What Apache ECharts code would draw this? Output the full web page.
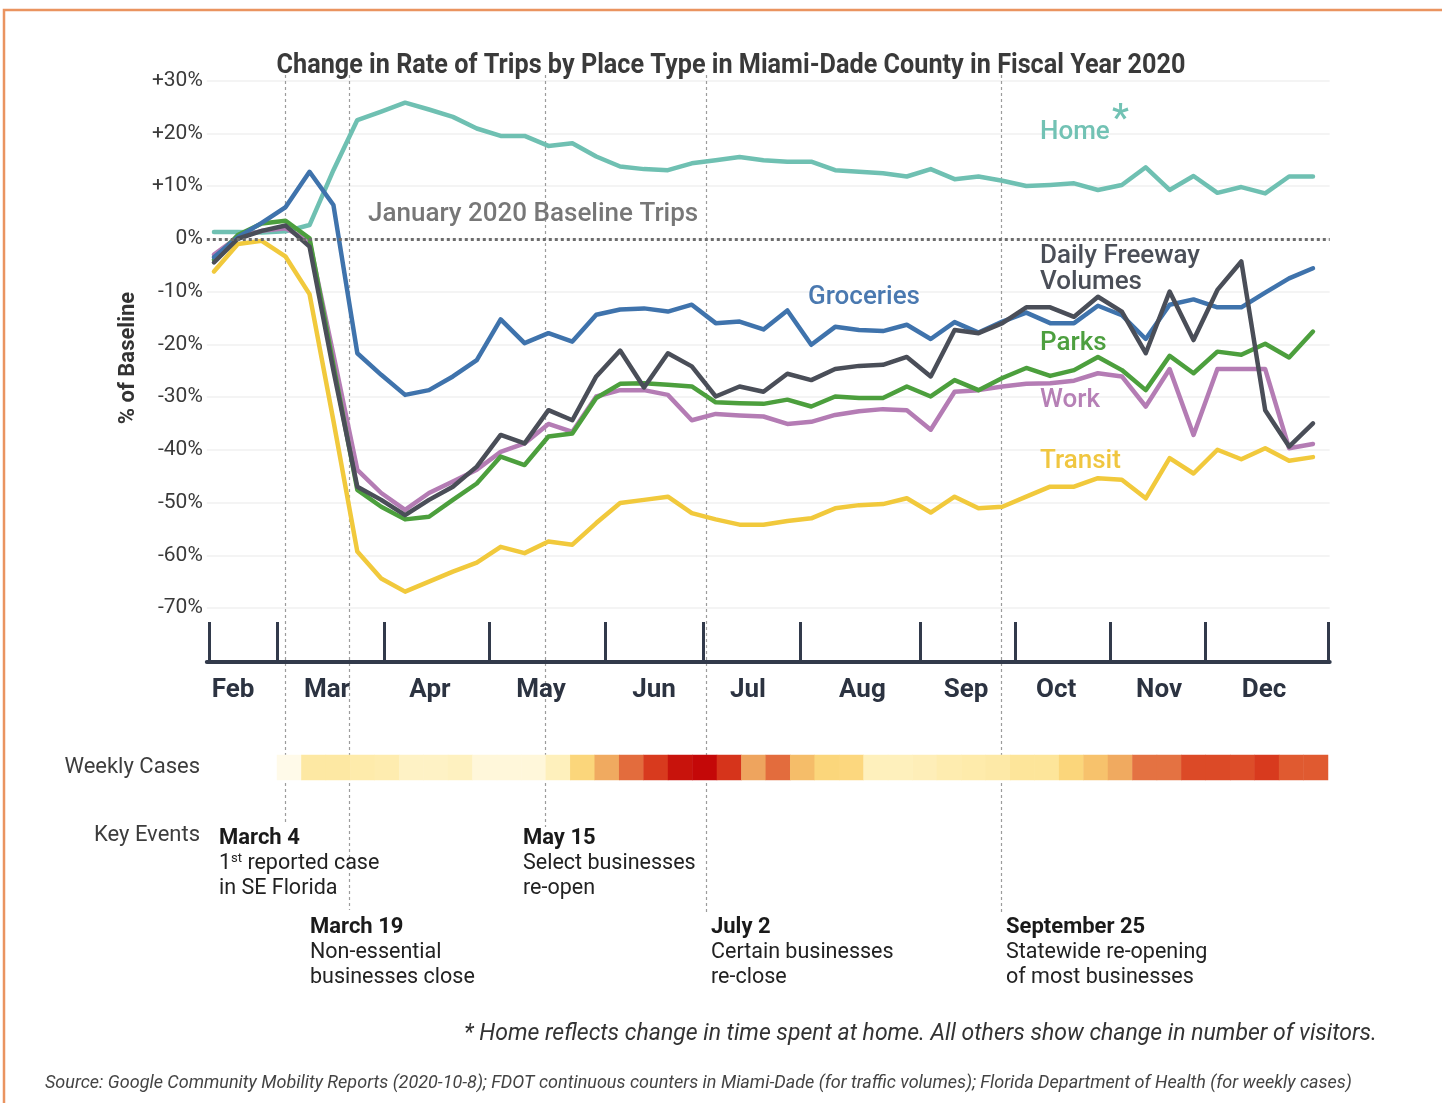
<!DOCTYPE html>
<html><head><meta charset="utf-8">
<script src="https://cdn.jsdelivr.net/npm/echarts@6/dist/echarts.min.js"></script>
<style>html,body{margin:0;padding:0;background:#fff;}#c{width:1442px;height:1103px;}</style>
</head><body><div id="c"></div>
<script>
// ---- DATA (weekly points, x = week index 0..46) ----
const home      = [1.3,1.3,1.2,1.4,2.6,13,22.5,24.1,25.8,24.5,23.1,20.9,19.5,19.5,17.6,18.1,15.6,13.7,13.2,13.0,14.3,14.9,15.5,14.9,14.6,14.6,13.0,12.7,12.4,11.8,13.2,11.3,11.8,11.0,10.0,10.2,10.5,9.25,10.2,13.55,9.25,11.9,8.7,9.8,8.6,11.8,11.8];
const groceries = [-3.5,0.3,3.0,6.0,12.7,6.4,-21.7,-25.8,-29.6,-28.7,-26.1,-23.0,-15.3,-19.8,-17.9,-19.5,-14.4,-13.4,-13.2,-13.8,-12.5,-16.0,-15.7,-17.2,-13.6,-20.1,-16.7,-17.3,-17.5,-16.3,-19.0,-15.8,-17.8,-15.7,-14.0,-16.0,-16.0,-12.7,-14.5,-19.0,-12.5,-11.5,-13.0,-13.0,-10.2,-7.5,-5.6];
const freeway   = [-4.5,0.0,1.5,2.5,-1.5,-25,-47,-49.5,-52.4,-49.5,-47.0,-43.2,-37.2,-38.8,-32.5,-34.4,-26.1,-21.2,-28.2,-21.7,-24.2,-29.9,-28.0,-29.0,-25.6,-26.8,-24.7,-24.1,-23.9,-22.4,-26.1,-17.3,-17.9,-16.0,-13.0,-13.0,-14.8,-11.0,-13.8,-21.7,-10.0,-19.2,-9.7,-4.3,-32.5,-39.4,-35.0];
const parks     = [-4.0,0.7,2.9,3.4,0.1,-24,-47.6,-50.8,-53.2,-52.7,-49.5,-46.4,-41.3,-42.9,-37.5,-36.9,-30.2,-27.5,-27.4,-27.7,-28.0,-31.0,-31.2,-31.3,-30.5,-31.8,-29.9,-30.2,-30.2,-28.0,-29.9,-26.8,-28.7,-26.4,-24.5,-26.0,-24.9,-22.4,-24.9,-28.7,-22.2,-25.5,-21.4,-22.0,-19.9,-22.5,-17.6];
const work      = [-3.0,0.3,1.5,2.0,-0.5,-22,-43.8,-48.2,-51.4,-48.2,-46.0,-43.8,-40.4,-38.8,-35.1,-36.6,-29.9,-28.7,-28.7,-29.6,-34.4,-33.2,-33.5,-33.7,-35.1,-34.7,-33.4,-32.7,-32.3,-32.5,-36.2,-29.0,-28.7,-28.0,-27.5,-27.4,-26.9,-25.5,-26.1,-31.8,-24.7,-37.2,-24.7,-24.7,-24.7,-39.7,-38.9];
const transit   = [-6.2,-1.0,-0.4,-3.4,-10.5,-34.5,-59.3,-64.4,-66.9,-65.0,-63.1,-61.4,-58.4,-59.6,-57.4,-58.0,-53.9,-50.1,-49.5,-48.9,-52.0,-53.2,-54.2,-54.2,-53.5,-53.0,-51.1,-50.5,-50.3,-49.2,-51.9,-48.9,-51.1,-50.8,-48.9,-47.0,-47.0,-45.4,-45.7,-49.2,-41.6,-44.5,-40.0,-41.8,-39.7,-42.1,-41.4];

const months        = ['Feb','Mar','Apr','May','Jun','Jul','Aug','Sep','Oct','Nov','Dec'];
const monthTickPos  = [-0.21,2.64,7.12,11.51,16.37,20.47,24.53,29.55,33.53,37.51,41.48,46.63];
const monthLabelPos = [0.8,4.73,9.04,13.69,18.42,22.35,27.14,31.48,35.25,39.56,43.95];

// relative weekly case intensity (0-100), one cell per week
const weeklyCases = [2,17,17,15,14,9,9,10,5,5,5,11,28,45,64,80,95,100,82,47,64,38,28,27,11,11,12,14,15,16,19,19,28,36,45,62,62,75,75,74,80,70,70];

const eventWeeks = [2.97,5.65,13.86,20.59,32.94];
const eventTitles = ['March 4','March 19','May 15','July 2','September 25'];
const eventTexts = [
  ['1{sup|st} reported case','in SE Florida'],
  ['Non-essential','businesses close'],
  ['Select businesses','re-open'],
  ['Certain businesses','re-close'],
  ['Statewide re-opening','of most businesses']
];
const titleText = 'Change in Rate of Trips by Place Type in Miami-Dade County in Fiscal Year 2020';

// ---- CHART ----
const chart = echarts.init(document.getElementById('c'), null, {renderer:'canvas'});
const XMIN = -0.3, XMAX = 46.7;
const GL = 206.8, GR = 1442 - 1329.7;
const toPts = arr => arr.map((v,i)=>[i,v]);

function lineSeries(name, arr, color, z){
  return {
    name, type:'line', xAxisIndex:0, yAxisIndex:0, data:toPts(arr),
    showSymbol:false, symbol:'none', z,
    lineStyle:{color, width:4.5, join:'round', cap:'round'},
    itemStyle:{color}
  };
}

const option = {
  animation:false,
  backgroundColor:'#ffffff',
  grid:[
    {left:GL, right:GR, top:80.5, height:527.5},
    {left:GL, right:GR, top:600, height:62},
    {left:277, right:114, top:755, height:25}
  ],
  xAxis:[
    {type:'value', gridIndex:0, min:XMIN, max:XMAX, show:false},
    {type:'value', gridIndex:1, min:XMIN, max:XMAX,
      axisLine:{show:true, lineStyle:{color:'#323a4b', width:4}},
      axisTick:{show:true, customValues:monthTickPos, inside:true, length:40, lineStyle:{color:'#323a4b', width:3}},
      axisLabel:{show:true, customValues:monthLabelPos, margin:15,
        formatter:v=>{const k=monthLabelPos.findIndex(p=>Math.abs(p-v)<1e-6); return k>=0?months[k]:'';},
        fontFamily:'Roboto', fontSize:26, fontWeight:'bold', color:'#2c3341'},
      splitLine:{show:false}},
    {type:'category', gridIndex:2, data:weeklyCases.map((_,i)=>'W'+(i+1)), show:false}
  ],
  yAxis:[
    {type:'value', gridIndex:0, min:-70, max:30, interval:10,
      axisLine:{show:false}, axisTick:{show:false},
      axisLabel:{margin:4, fontFamily:'Roboto', fontSize:21, color:'#3a3a3a',
        formatter:v=> (v>0?'+':'')+v+'%'},
      splitLine:{show:true, lineStyle:{color:'#f1f1f1', width:1.5}}},
    {type:'value', gridIndex:1, min:0, max:1, show:false},
    {type:'category', gridIndex:2, data:['Weekly Cases'],
      axisLine:{show:false}, axisTick:{show:false},
      axisLabel:{margin:77, fontFamily:'Roboto', fontSize:22, color:'#3d3d3d'}}
  ],
  visualMap:{type:'continuous', show:false, min:0, max:100, seriesIndex:8, dimension:2,
    inRange:{color:['#fffcf3','#fef1c0','#fde496','#fbd274','#f4b866','#ec9c5a','#e57846','#e05a30','#d83a1e','#cc1e10','#c40808']}},
  series:[
    {type:'line', xAxisIndex:0, yAxisIndex:0, data:[], z:1,
      markLine:{silent:true, symbol:'none', label:{show:false},
        lineStyle:{type:'dotted', color:'#6c6c6c', width:3},
        data:[{yAxis:0}]}},
    lineSeries('Home', home, '#6fc0b2', 3),
    lineSeries('Transit', transit, '#f1c93c', 3),
    lineSeries('Work', work, '#b47cb4', 3),
    lineSeries('Parks', parks, '#4c9f3d', 3),
    lineSeries('Groceries', groceries, '#3f73ac', 3),
    lineSeries('Daily Freeway Volumes', freeway, '#4a4e58', 3),
    {type:'line', xAxisIndex:1, yAxisIndex:1, data:[]},
    {type:'heatmap', xAxisIndex:2, yAxisIndex:2,
      data:weeklyCases.map((v,i)=>[i,0,v]), itemStyle:{borderWidth:0}}
  ]
};
chart.setOption(option);

// ---- annotations positioned through the axis scale ----
const px = v => chart.convertToPixel({xAxisIndex:0}, v);
const measureCtx = document.createElement('canvas').getContext('2d');
const textWidth = (t, font) => { measureCtx.font = font; return measureCtx.measureText(t).width; };

const g = [];
g.push({type:'rect', z:100, shape:{x:4, y:10, width:1500, height:1200}, style:{fill:'none', stroke:'#ea9460', lineWidth:2.5}, silent:true});
const evEnd = [825,910,827,913,913];
eventWeeks.forEach((w,k)=>{
  const x = Math.round(px(w))+0.5;
  g.push({type:'line', z:0, silent:true, shape:{x1:x, y1:75, x2:x, y2:evEnd[k]},
    style:{stroke:'#9c9c9c', lineWidth:1.2, lineDash:[3,3]}});
});
const T = (text, x, y, font, fill, align, extra) => Object.assign({type:'text', z:50, silent:true,
  style:Object.assign({text, x, y, font, fill, align:align||'left', verticalAlign:'middle'}, extra||{})});

// condensed-looking title (horizontal scale so that it spans the same width as the original)
const titleFont = "bold 28px Roboto";
const titleScale = 909 / textWidth(titleText, titleFont);
g.push(Object.assign(T(titleText, 0, 0, titleFont, '#3a3a3a', 'center'), {x:731, y:66, scaleX:titleScale}));

g.push(Object.assign(T('% of Baseline', 0, 0, "bold 22px Roboto", '#333', 'center'), {x:128, y:358, rotation:Math.PI/2}));
g.push(T('January 2020 Baseline Trips', 368, 214, "500 26px Roboto", '#777777'));
g.push(T('Home', 1040, 132, "500 26px Roboto", '#72c2b4'));
g.push(T('*', 1112, 121, "500 38px Roboto", '#72c2b4'));
g.push(T('Groceries', 808, 297, "500 26px Roboto", '#4a79b0'));
g.push(T('Daily Freeway', 1040, 256, "500 26px Roboto", '#4b4f58'));
g.push(T('Volumes', 1040, 282, "500 26px Roboto", '#4b4f58'));
g.push(T('Parks', 1040, 343, "500 26px Roboto", '#4d9f3f'));
g.push(T('Work', 1040, 400, "500 26px Roboto", '#b680b6'));
g.push(T('Transit', 1040, 461, "500 26px Roboto", '#f0c640'));
g.push(T('Key Events', 200, 835, "22px Roboto", '#3d3d3d', 'right'));
const evX = [219,310,523,711,1006], evY = [838,927,838,927,927];
eventTitles.forEach((t,k)=>{
  g.push(T(t, evX[k], evY[k], "bold 22px Roboto", '#1a1a1a'));
  eventTexts[k].forEach((line,j)=>{
    g.push(T(line, evX[k], evY[k]+26+25*j, "21.5px Roboto", '#222', 'left',
      {rich:{sup:{font:"13px Roboto", fill:'#222', padding:[0,0,10,0]}}}));
  });
});
g.push(T('* Home reflects change in time spent at home. All others show change in number of visitors.', 1377, 1034, "italic 23px Roboto", '#333', 'right'));
g.push(T('Source: Google Community Mobility Reports (2020-10-8); FDOT continuous counters in Miami-Dade (for traffic volumes); Florida Department of Health (for weekly cases)', 45, 1083, "italic 18px Roboto", '#444'));
chart.setOption({graphic:g});
</script></body></html>
